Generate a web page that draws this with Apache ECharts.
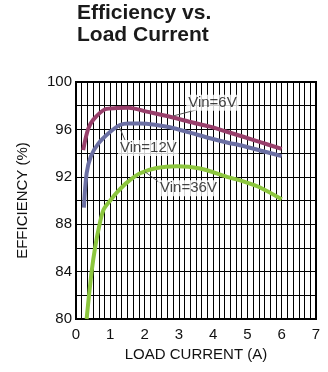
<!DOCTYPE html>
<html>
<head>
<meta charset="utf-8">
<script src="https://cdn.jsdelivr.net/npm/echarts@6/dist/echarts.min.js"></script>
<style>
  html, body { margin: 0; padding: 0; background: #fff; }
  #chart { width: 328px; height: 372px; }
</style>
</head>
<body>
<div id="chart"></div>
<script>
// Load current (A) and efficiency (%) for each input voltage
const vin6Current = [0.21, 0.35, 0.5, 0.85, 1.2, 1.53, 2.06, 2.74, 3.3, 3.91, 4.4, 4.88, 5.4, 6.0];
const vin6Eff     = [94.26, 96.0, 96.8, 97.7, 97.8, 97.83, 97.5, 97.07, 96.65, 96.23, 95.8, 95.38, 94.9, 94.35];

const vin12Current = [0.23, 0.31, 0.43, 0.65, 1.0, 1.28, 1.53, 1.87, 2.3, 2.74, 3.3, 3.91, 4.4, 4.88, 5.4, 6.0];
const vin12Eff     = [89.4, 92.3, 93.7, 94.8, 95.8, 96.37, 96.5, 96.5, 96.4, 96.18, 95.75, 95.25, 94.9, 94.6, 94.2, 93.75];

const vin36Current = [0.31, 0.38, 0.46, 0.55, 0.66, 0.8, 1.0, 1.2, 1.5, 1.87, 2.35, 2.94, 3.62, 4.4, 4.9, 5.37, 6.0];
const vin36Eff     = [80.0, 82.0, 84.1, 85.9, 87.6, 89.2, 90.0, 90.7, 91.55, 92.3, 92.75, 92.9, 92.7, 92.0, 91.6, 91.1, 90.1];

// Curve callouts: text, label centre, leader line start and end
const calloutText  = ['Vin=6V', 'Vin=12V', 'Vin=36V'];
const calloutPos   = [[3.98, 98.25], [2.11, 94.43], [3.28, 91.03]];
const leaderFrom   = [[2.83, 97.13], [1.26, 96.23], [2.01, 92.43]];
const leaderTo     = [[3.5, 97.64], [1.43, 95.1], [2.45, 91.48]];

const xTicks = [0, 1, 2, 3, 4, 5, 6, 7];
const yTicks = [80, 84, 88, 92, 96, 100];

const colors = ['#983F6B', '#6B6FA3', '#8CC63E'];
const font = '"Liberation Sans", Arial, Helvetica, sans-serif';

function zip(xs, ys) { return xs.map((x, i) => [x, ys[i]]); }

const curves = [
  zip(vin6Current, vin6Eff),
  zip(vin12Current, vin12Eff),
  zip(vin36Current, vin36Eff)
];

const lineSeries = curves.map((data, i) => ({
  type: 'line',
  data: data,
  smooth: 0.3,
  showSymbol: false,
  symbol: 'none',
  z: 3,
  lineStyle: { color: colors[i], width: 4, cap: 'butt' },
  markLine: {
    silent: true,
    symbol: 'none',
    label: { show: false },
    lineStyle: { color: '#555', width: 1, type: 'solid' },
    data: [[{ coord: leaderFrom[i] }, { coord: leaderTo[i] }]]
  }
}));

const labelSeries = {
  type: 'scatter',
  symbolSize: 0,
  z: 5,
  data: calloutPos.map((p, i) => ({ value: p, name: calloutText[i] })),
  label: {
    show: true,
    position: 'inside',
    formatter: p => p.name,
    fontFamily: font,
    fontSize: 15,
    color: '#111',
    backgroundColor: '#fff',
    padding: [1, 2, 0, 2]
  }
};

const chart = echarts.init(document.getElementById('chart'));
chart.setOption({
  animation: false,
  backgroundColor: '#fff',
  title: {
    text: 'Efficiency vs.\nLoad Current',
    left: 77,
    top: 2,
    padding: 0,
    textStyle: {
      fontFamily: font,
      fontWeight: 'bold',
      fontSize: 21,
      lineHeight: 22,
      color: '#1a1a1a'
    }
  },
  grid: {
    left: 76, right: 12, top: 82, bottom: 53,
    show: true,
    borderColor: '#000',
    borderWidth: 2
  },
  xAxis: {
    type: 'value',
    min: xTicks[0],
    max: xTicks[xTicks.length - 1],
    interval: 1,
    name: 'LOAD CURRENT (A)',
    nameLocation: 'middle',
    nameGap: 28,
    nameTextStyle: { fontFamily: font, fontSize: 15, color: '#111' },
    axisLine: { show: true, lineStyle: { color: '#000', width: 2 } },
    axisTick: { show: false },
    axisLabel: { fontFamily: font, fontSize: 15, color: '#111', margin: 8 },
    splitLine: { show: true, lineStyle: { color: '#000', width: 1 } },
    minorTick: { show: false, splitNumber: 6 },
    minorSplitLine: { show: true, lineStyle: { color: '#000', width: 1 } }
  },
  yAxis: {
    type: 'value',
    min: yTicks[0],
    max: yTicks[yTicks.length - 1],
    interval: 2,
    name: 'EFFICIENCY (%)',
    nameLocation: 'middle',
    nameGap: 46,
    nameTextStyle: { fontFamily: font, fontSize: 15, color: '#111' },
    axisLine: { show: true, lineStyle: { color: '#000', width: 2 } },
    axisTick: { show: false },
    axisLabel: {
      fontFamily: font, fontSize: 15, color: '#111', margin: 4,
      formatter: v => (yTicks.indexOf(v) >= 0 ? String(v) : '')
    },
    splitLine: { show: true, lineStyle: { color: '#000', width: 1 } }
  },
  series: lineSeries.concat([labelSeries])
});
</script>
</body>
</html>
